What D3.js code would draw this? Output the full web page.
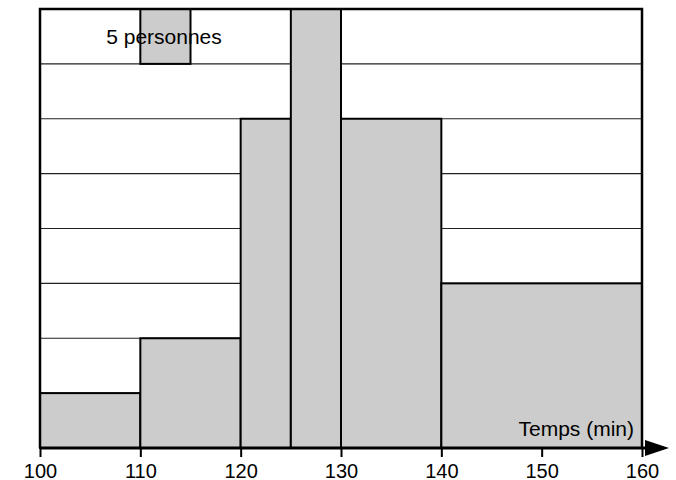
<!DOCTYPE html>
<html>
<head>
<meta charset="utf-8">
<script src="https://cdn.jsdelivr.net/npm/d3@7"></script>
<style>
  body { margin: 0; background: #fff; }
  text { font-family: "Liberation Sans", Arial, sans-serif; fill: #000; }
</style>
</head>
<body>
<div id="chart"></div>
<script>
const width = 676;
const height = 480;
const marginLeft = 40;
const marginRight = 34;
const marginTop = 9;
const marginBottom = 32;

// classes (min) and number of people
const classStarts = [100, 110, 120, 125, 130, 140];
const classEnds = [110, 120, 125, 130, 140, 160];
const counts = [10, 20, 30, 40, 60, 60];
const xTicks = [100, 110, 120, 130, 140, 150, 160];
// legend: one square = 5 personnes (5 min wide, 1 unit high)
const legendClass = [110, 115];
const legendCount = 5;
const legendLabel = "5 personnes";
const axisLabel = "Temps (min)";
const maxUnits = 8;

var svg = d3.select("#chart").append("svg").attr("width", width).attr("height", height);

var x = d3.scaleLinear().domain([100, 160]).range([marginLeft, width - marginRight]);
var y = d3.scaleLinear().domain([0, maxUnits]).range([height - marginBottom, marginTop]);

// height in units : count / 5 per 5-minute width
function units(count, a, b) {
    return count / legendCount / ((b - a) / (legendClass[1] - legendClass[0]));
}

// horizontal grid
svg.append("g")
    .selectAll("line")
    .data(d3.range(1, maxUnits))
    .join("line")
    .attr("x1", x(100)).attr("x2", x(160))
    .attr("y1", d => y(d)).attr("y2", d => y(d))
    .attr("stroke", "#222").attr("stroke-width", 1.2);

// bars
var bars = classStarts.map((s, i) => ({ s: s, e: classEnds[i], u: units(counts[i], s, classEnds[i]) }));
svg.append("g")
    .selectAll("rect")
    .data(bars)
    .join("rect")
    .attr("x", d => x(d.s))
    .attr("y", d => y(d.u))
    .attr("width", d => x(d.e) - x(d.s))
    .attr("height", d => y(0) - y(d.u))
    .attr("fill", "#cccccc")
    .attr("stroke", "#000")
    .attr("stroke-width", 2);

// legend square
svg.append("rect")
    .attr("x", x(legendClass[0]))
    .attr("y", y(maxUnits))
    .attr("width", x(legendClass[1]) - x(legendClass[0]))
    .attr("height", y(maxUnits - 1) - y(maxUnits))
    .attr("fill", "#cccccc")
    .attr("stroke", "#000")
    .attr("stroke-width", 2);

svg.append("text")
    .attr("x", 164)
    .attr("y", 44)
    .attr("text-anchor", "middle")
    .style("font-size", "21px")
    .text(legendLabel);

// frame: top, left, right
svg.append("path")
    .attr("d", "M" + x(100) + "," + y(0) + "V" + y(maxUnits) + "H" + x(160) + "V" + y(0))
    .attr("fill", "none")
    .attr("stroke", "#000")
    .attr("stroke-width", 2.5);

// bottom axis
var axis = svg.append("g")
    .attr("transform", "translate(0," + y(0) + ")")
    .call(d3.axisBottom(x).tickValues(xTicks).tickSize(9).tickPadding(7).tickFormat(d3.format("d")));
axis.select(".domain").remove();
axis.selectAll(".tick line").attr("stroke", "#000").attr("stroke-width", 2);
axis.selectAll(".tick text")
    .style("font-size", "20px")
    .style("font-family", "'Liberation Sans', Arial, sans-serif");

svg.append("line")
    .attr("x1", x(100)).attr("x2", x(160) + 6)
    .attr("y1", y(0)).attr("y2", y(0))
    .attr("stroke", "#000").attr("stroke-width", 3);

// arrow head
svg.append("path")
    .attr("d", "M" + (x(160) + 3) + "," + (y(0) - 8) + "L" + (x(160) + 27) + "," + y(0) + "L" + (x(160) + 3) + "," + (y(0) + 8) + "Z")
    .attr("fill", "#000");

svg.append("text")
    .attr("x", x(160) - 8)
    .attr("y", y(0) - 12)
    .attr("text-anchor", "end")
    .style("font-size", "21px")
    .text(axisLabel);
</script>
</body>
</html>
